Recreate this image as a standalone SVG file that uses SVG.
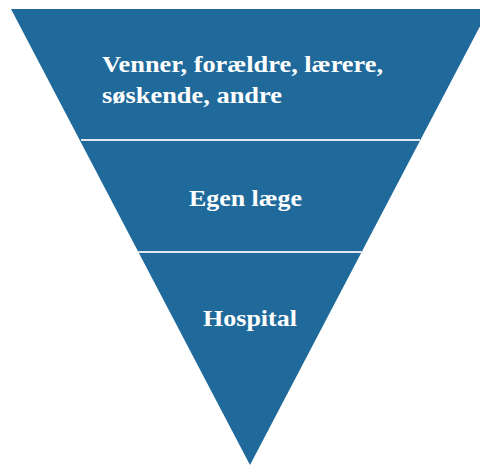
<svg xmlns="http://www.w3.org/2000/svg" width="480" height="466" viewBox="0 0 480 466">
  <style>
    .seg { fill: #1f6a9b; }
    .sep { stroke: #dfe6ee; stroke-width: 2; fill: none; }
    .lbl { font-family: "Liberation Serif", "Times New Roman", serif; font-weight: bold; font-size: 23px; fill: #ffffff; }
  </style>
  <rect width="480" height="466" fill="#ffffff"/>
  <g id="funnel">
    <polygon class="seg" points="11,9 489,9 250,465"/>
  </g>
  <g id="connectors">
    <line class="sep" x1="81" y1="140" x2="420" y2="140"/>
    <line class="sep" x1="137" y1="252" x2="363" y2="252"/>
  </g>
  <g id="node-top">
    <text class="lbl" x="102" y="72" textLength="281" lengthAdjust="spacingAndGlyphs">Venner, forældre, lærere,</text>
    <text class="lbl" x="102" y="103" textLength="180" lengthAdjust="spacingAndGlyphs">søskende, andre</text>
  </g>
  <g id="node-middle">
    <text class="lbl" x="189" y="206" textLength="113" lengthAdjust="spacingAndGlyphs">Egen læge</text>
  </g>
  <g id="node-bottom">
    <text class="lbl" x="203" y="326" textLength="94" lengthAdjust="spacingAndGlyphs">Hospital</text>
  </g>
</svg>
